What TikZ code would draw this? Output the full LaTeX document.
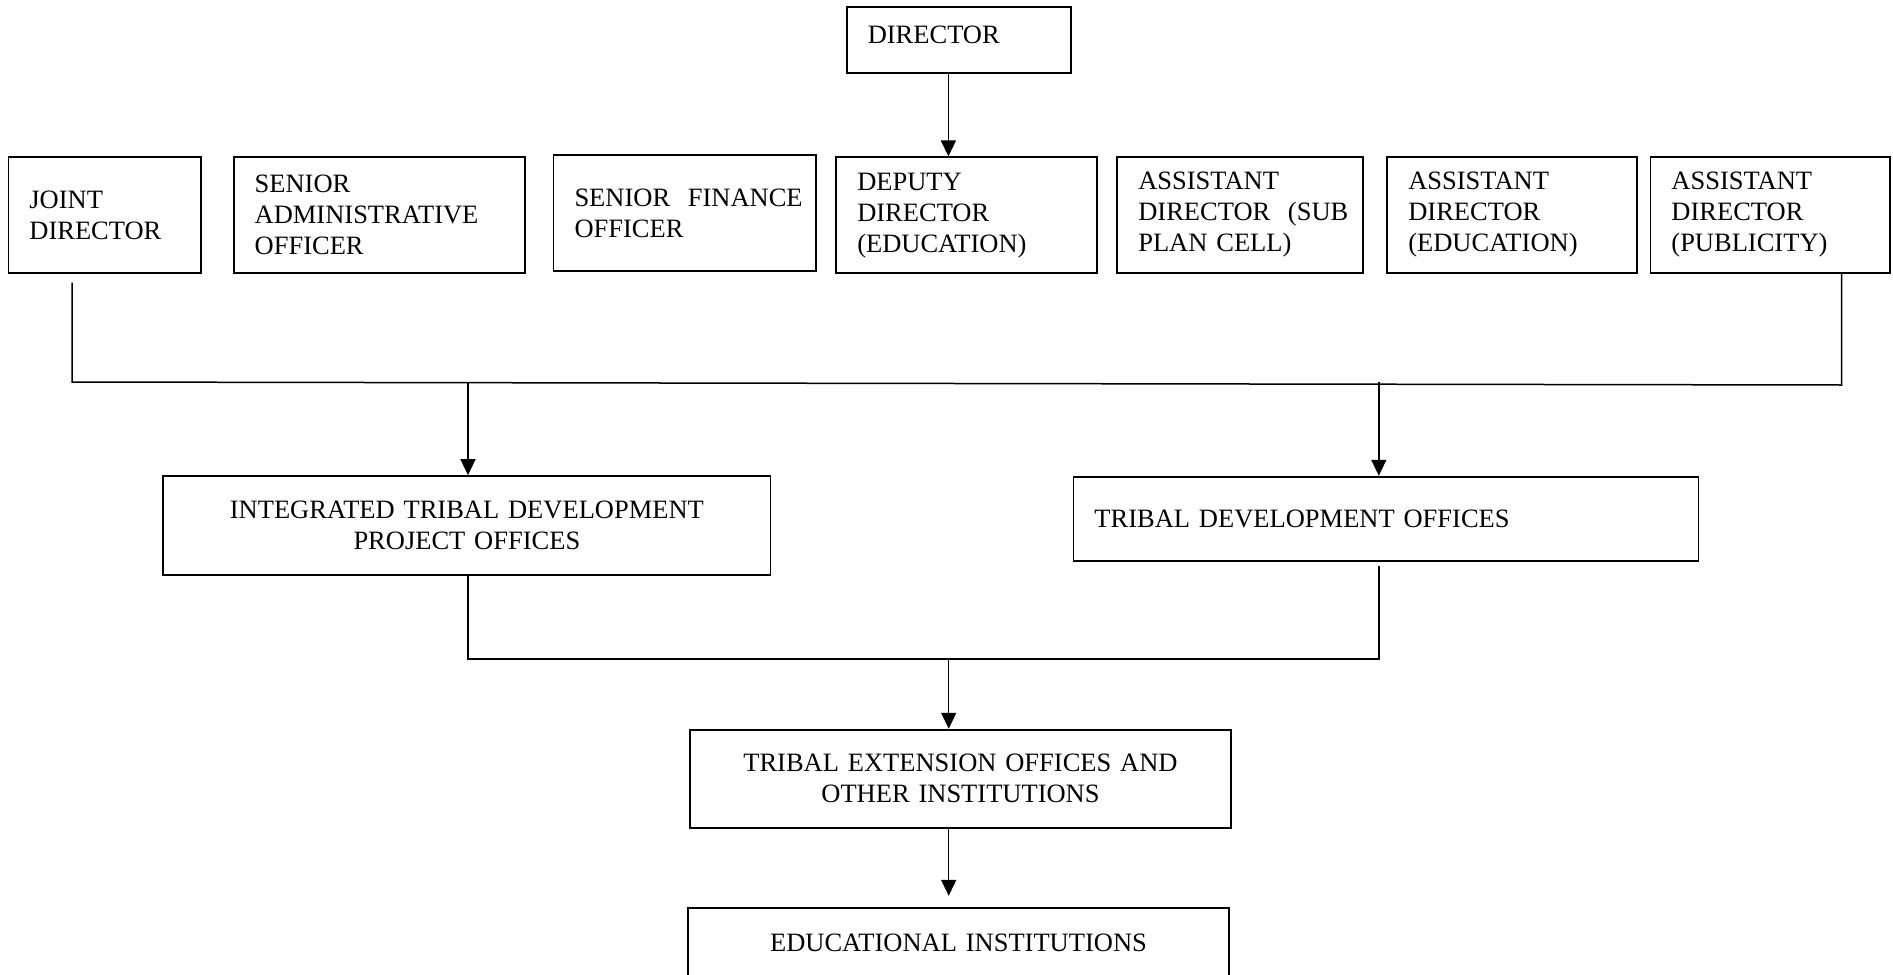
\documentclass[tikz,border=0pt]{standalone}
\usepackage{fontspec}
\setmainfont{Liberation Serif}
\usepackage{graphicx}
\usetikzlibrary{arrows.meta,calc}
\begin{document}
\begin{tikzpicture}[x=0.5pt,y=-0.5pt,
  box/.style={draw, line width=0.9pt, inner xsep=10.5pt, inner ysep=0pt, align=left,
    font=\fontsize{13.25}{15.5}\selectfont},
  cbox/.style={box, align=center},
  link/.style={line width=0.75pt},
  arr/.style={link, -{Triangle[length=8pt,width=7.5pt]}}]
\useasboundingbox (0,0) rectangle (1893,974);
\clip (0,0) rectangle (1893,974);

% top row
\node[box, text width=91.25pt, minimum height=33pt, text depth=5.3pt] (dir) at (959,40.3) {DIRECTOR};
\node[box, text width=75.1pt, minimum height=58pt] (joint) at (104.5,215.3) {JOINT\\DIRECTOR};
\node[box, text width=124.55pt, minimum height=58pt] (admin) at (379.2,215.3) {SENIOR\\\mbox{ADMINISTRATIVE}\\OFFICER};
\node[box, text width=110.2pt, minimum height=57.85pt] (fin) at (684.7,212.9) {\mbox{SENIOR\ \ FINANCE}\\OFFICER};
\node[box, text width=109.25pt, minimum height=58pt] (deputy) at (966.5,215.3) {DEPUTY\\DIRECTOR\\(EDUCATION)};
\node[box, text width=102pt, minimum height=57.7pt] (sub) at (1240.3,215) {ASSISTANT\\\mbox{DIRECTOR\ \ (SUB}\\PLAN CELL)};
\node[box, text width=103.7pt, minimum height=57.7pt] (edu) at (1512,215) {ASSISTANT\\DIRECTOR\\(EDUCATION)};
\node[box, text width=98.6pt, minimum height=57.7pt] (pub) at (1770,215) {ASSISTANT\\DIRECTOR\\(PUBLICITY)};

% middle
\node[cbox, text width=282.55pt, minimum height=49.65pt] (itdp) at (466.9,525.7) {INTEGRATED TRIBAL DEVELOPMENT\\PROJECT OFFICES};
\node[box, text width=291.55pt, minimum height=42.15pt] (tdo) at (1386,518.8) {TRIBAL DEVELOPMENT OFFICES};
\node[cbox, text width=249.8pt, minimum height=49.15pt] (teo) at (960.5,778.8) {TRIBAL EXTENSION OFFICES AND\\OTHER INSTITUTIONS};
\node[cbox, text width=249.5pt, minimum height=35.6pt] (ei) at (958.5,943.3) {EDUCATIONAL INSTITUTIONS};

% connectors
\coordinate (dx) at (948.4,0);
\draw[arr] (dir.south -| dx) -- (deputy.north -| dx);

\coordinate (ja) at (72,282.7);
\coordinate (jb) at (72,382);
\coordinate (pb) at (1841.7,385);
\draw[link] (ja) -- (jb) -- (pb) -- (pb |- pub.south);

\coordinate (b1) at (468,382.7);
\draw[arr] (b1) -- (b1 |- itdp.north);
\coordinate (b2) at (1378.8,381.7);
\draw[arr] (b2) -- (b2 |- tdo.north);

\coordinate (l1) at (468,659);
\coordinate (l2) at (1378.8,659);
\coordinate (t2) at (1378.8,566);
\draw[link] (l1 |- itdp.south) -- (l1) -- (l2) -- (t2);

\coordinate (b3) at (948.7,659);
\draw[arr] (b3) -- (b3 |- teo.north);
\draw[arr] (b3 |- teo.south) -- ($(b3 |- ei.north)+(0,-11)$);
\end{tikzpicture}
\end{document}
